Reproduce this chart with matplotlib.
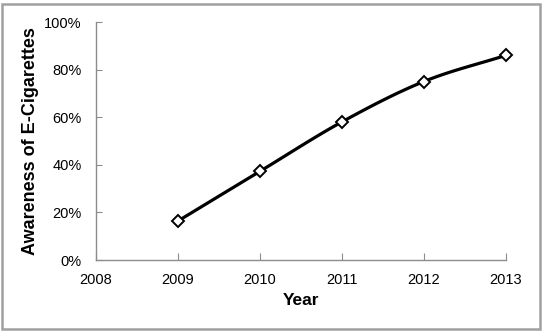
import numpy as np
import matplotlib
matplotlib.use("Agg")
import matplotlib.pyplot as plt
from matplotlib.patches import Rectangle
from matplotlib.ticker import PercentFormatter

years = [2009, 2010, 2011, 2012, 2013]
awareness = [16.3, 37.2, 58.0, 75.0, 86.0]
x_ticks = [2008, 2009, 2010, 2011, 2012, 2013]
y_ticks = [0, 20, 40, 60, 80, 100]

plt.rcParams['font.family'] = ['Liberation Sans', 'DejaVu Sans']

fig = plt.figure(figsize=(5.46, 3.33), dpi=100)
ax = fig.add_axes([95.5/546, 1-260/333, (506-95.5)/546, (260-22)/333])

# smooth curve through points (Catmull-Rom, like Excel smoothed line)
def smooth(x, y, n=30):
    x = np.asarray(x, float); y = np.asarray(y, float)
    px = np.concatenate([[2*x[0]-x[1]], x, [2*x[-1]-x[-2]]])
    py = np.concatenate([[2*y[0]-y[1]], y, [2*y[-1]-y[-2]]])
    xs, ys = [], []
    t = np.linspace(0, 1, n)
    for i in range(1, len(px)-2):
        for arr, out in ((px, xs), (py, ys)):
            p0, p1, p2, p3 = arr[i-1], arr[i], arr[i+1], arr[i+2]
            out.extend(0.5*((2*p1) + (-p0+p2)*t + (2*p0-5*p1+4*p2-p3)*t**2 + (-p0+3*p1-3*p2+p3)*t**3))
    return xs, ys

sx, sy = smooth(years, awareness)
ax.plot(sx, sy, color='black', lw=2.3, solid_capstyle='round', clip_on=False)
ax.plot(years, awareness, ls='none', marker='D', ms=6.5, mfc='white', mec='black', mew=1.4,
        zorder=3, clip_on=False)

ax.set_xlim(2008, 2013)
ax.set_ylim(0, 100)
ax.set_xticks(x_ticks)
ax.set_yticks(y_ticks)
ax.yaxis.set_major_formatter(PercentFormatter(decimals=0))
for s in ['top', 'right']:
    ax.spines[s].set_visible(False)
for s in ['left', 'bottom']:
    ax.spines[s].set_color('#8c8c8c')
    ax.spines[s].set_linewidth(1.0)
ax.tick_params(axis='x', direction='in', length=5, color='#8c8c8c', labelsize=10.5, pad=9)
ax.tick_params(axis='y', direction='in', length=4, color='#8c8c8c', labelsize=10.5, pad=10)
ax.set_xlabel('Year', fontsize=12.5, fontweight='bold', labelpad=5)
ax.set_ylabel('Awareness of E-Cigarettes', fontsize=13, fontweight='bold', labelpad=4)

fig.patches.append(Rectangle((2/546, 4/333), 538/546, 325/333, transform=fig.transFigure,
                             fill=False, edgecolor='#a0a0a0', lw=1.8))

fig.savefig('out.png', dpi=100)
